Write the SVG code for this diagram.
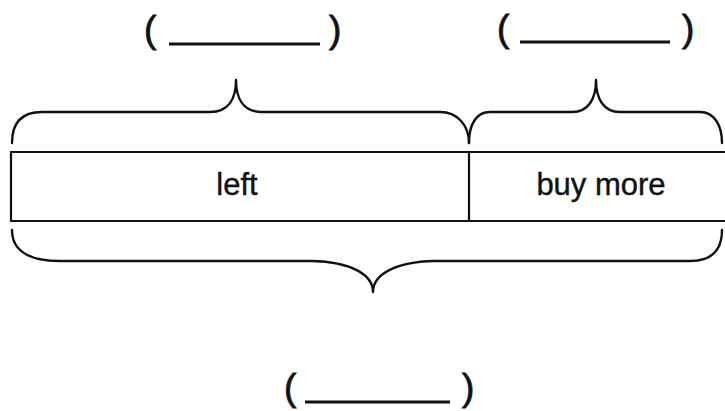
<svg xmlns="http://www.w3.org/2000/svg" width="725" height="411" viewBox="0 0 725 411">
<style>
.box{fill:none;stroke:#111;stroke-width:2.2}
.brace{fill:none;stroke:#111;stroke-width:2.4;stroke-linejoin:round;stroke-linecap:round}
.lbl{font-family:"Liberation Sans",Arial,sans-serif;font-size:31px;fill:#111;stroke:#111;stroke-width:0.4;text-anchor:middle}
.par{font-family:"Liberation Sans",Arial,sans-serif;font-size:37px;fill:#111;stroke:#111;stroke-width:0.8}
.blank{stroke:#111;stroke-width:3}
</style>
<rect width="725" height="411" fill="#fff"/>
<g id="node-left">
<path class="box" d="M730,152 L11,152 L11,221 L730,221"/>
<text class="lbl" x="237" y="195">left</text>
</g>
<g id="node-buy-more">
<line class="box" x1="469" y1="152" x2="469" y2="221"/>
<text class="lbl" x="601" y="195">buy more</text>
</g>
<g id="node-blank-top-left">
<text class="par" x="144" y="42">(</text>
<line class="blank" x1="169" y1="44" x2="320" y2="44"/>
<text class="par" x="329" y="42">)</text>
</g>
<g id="node-blank-top-right">
<text class="par" x="497" y="41">(</text>
<line class="blank" x1="520" y1="42" x2="670" y2="42"/>
<text class="par" x="682" y="41">)</text>
</g>
<g id="node-blank-bottom">
<text class="par" x="284" y="400">(</text>
<line class="blank" x1="305" y1="402" x2="450" y2="402"/>
<text class="par" x="462" y="400">)</text>
</g>
<g id="connectors">
<path class="brace" d="M12,143 C12,125 20,112 42,112 L210,112 C229,112 236,98 236,80 C236,98 243,112 262,112 L440,112 C457,112 469,125 469,143"/>
<path class="brace" d="M469,143 C469,125 476,112 490,112 L572,112 C589,112 596,98 596,80 C596,98 603,112 620,112 L700,112 C714,112 722,125 722,143"/>
<path class="brace" d="M12,230 C12,250 28,261 60,261 L312,261 C350,262 373,274 373,292 C373,274 396,262 434,261 L690,261 C712,261 722,250 722,230"/>
</g>
</svg>
